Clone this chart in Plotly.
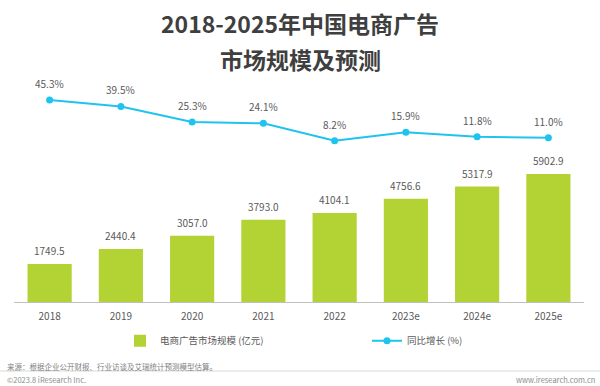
import plotly.graph_objects as go

categories = ["2018", "2019", "2020", "2021", "2022", "2023e", "2024e", "2025e"]
market_size = [1749.5, 2440.4, 3057.0, 3793.0, 4104.1, 4756.6, 5317.9, 5902.9]
growth = [45.3, 39.5, 25.3, 24.1, 8.2, 15.9, 11.8, 11.0]

bar_name = "电商广告市场规模 (亿元)"
line_name = "同比增长 (%)"
title1 = "2018-2025年中国电商广告"
title2 = "市场规模及预测"
source = "来源：根据企业公开财报、行业访谈及艾瑞统计预测模型估算。"
copyright_txt = "©2023.8 iResearch Inc."
site = "www.iresearch.com.cn"

FONT = "Noto Sans CJK SC, Noto Sans, sans-serif"
GREEN = "#b3d334"
BLUE = "#1fc4ee"

W, H = 600, 386
ML, MR, MT, MB = 14, 16, 60, 84
PW, PH = W - ML - MR, H - MT - MB


def px_x(px):
    return (px - ML) / PW


def px_y(py):
    return (H - MB - py) / PH


fig = go.Figure()
fig.add_trace(go.Bar(
    x=categories, y=market_size, name=bar_name,
    marker=dict(color=GREEN, line=dict(width=0)),
    yaxis="y", legend="legend",
))
fig.add_trace(go.Scatter(
    x=categories, y=growth, name=line_name, mode="lines+markers",
    line=dict(color=BLUE, width=2), marker=dict(color=BLUE, size=7),
    yaxis="y2", legend="legend2",
))

annotations = []
for i, v in enumerate(market_size):
    annotations.append(dict(x=i, y=v, xref="x", yref="y", text=f"{v:.1f}",
                            showarrow=False, yanchor="bottom", yshift=4,
                            font=dict(family=FONT, size=10, color="#595959")))
for i, v in enumerate(growth):
    annotations.append(dict(x=i, y=v, xref="x", yref="y2", text=f"{v:.1f}%",
                            showarrow=False, yanchor="bottom", yshift=7,
                            font=dict(family=FONT, size=10, color="#595959")))

annotations += [
    dict(text=f"<b>{title1}</b>", xref="paper", yref="paper", x=px_x(300), y=px_y(23),
         xanchor="center", yanchor="middle", showarrow=False,
         font=dict(family=FONT, size=23, color="#3f3f3f")),
    dict(text=f"<b>{title2}</b>", xref="paper", yref="paper", x=px_x(300), y=px_y(59),
         xanchor="center", yanchor="middle", showarrow=False,
         font=dict(family=FONT, size=23, color="#3f3f3f")),
    dict(text=source, xref="paper", yref="paper", x=px_x(5), y=px_y(366),
         xanchor="left", yanchor="middle", showarrow=False,
         font=dict(family=FONT, size=7.5, color="#7f7f7f")),
    dict(text=copyright_txt, xref="paper", yref="paper", x=px_x(5), y=px_y(379),
         xanchor="left", yanchor="middle", showarrow=False,
         font=dict(family=FONT, size=7.5, color="#8c8c8c")),
    dict(text=site, xref="paper", yref="paper", x=px_x(597), y=px_y(379),
         xanchor="right", yanchor="middle", showarrow=False,
         font=dict(family=FONT, size=7.5, color="#8c8c8c")),
]

legend_common = dict(orientation="h", xref="container", yref="container",
                     y=1 - 340.7 / H, xanchor="left", yanchor="middle",
                     font=dict(family=FONT, size=9.5, color="#595959"),
                     itemwidth=30, bgcolor="rgba(0,0,0,0)")

fig.update_layout(
    width=W, height=H,
    margin=dict(l=ML, r=MR, t=MT, b=MB, autoexpand=False),
    paper_bgcolor="white", plot_bgcolor="white",
    font=dict(family=FONT, size=10, color="#595959"),
    bargap=0.38,
    showlegend=True,
    legend=dict(x=(160 - 40) / W, **legend_common),
    legend2=dict(x=(407 - 40) / W, **legend_common),
    xaxis=dict(type="category", range=[-0.5, len(categories) - 0.5],
               showline=True, linecolor="#bfbfbf", linewidth=1,
               showgrid=False, ticks="", ticklabelstandoff=5,
               tickfont=dict(family=FONT, size=10, color="#595959")),
    yaxis=dict(range=[0, 11152], visible=False, showgrid=False, fixedrange=True),
    yaxis2=dict(range=[-138.8, 81.8], overlaying="y", visible=False, showgrid=False),
    annotations=annotations,
    shapes=[dict(type="line", xref="paper", yref="paper", x0=px_x(0), x1=px_x(600),
                 y0=px_y(371), y1=px_y(371),
                 line=dict(color="#d9d9d9", width=1))],
)

fig.write_html("out.html", config={"displayModeBar": False},
               post_script="document.body.style.margin='0';document.body.style.overflow='hidden';")
